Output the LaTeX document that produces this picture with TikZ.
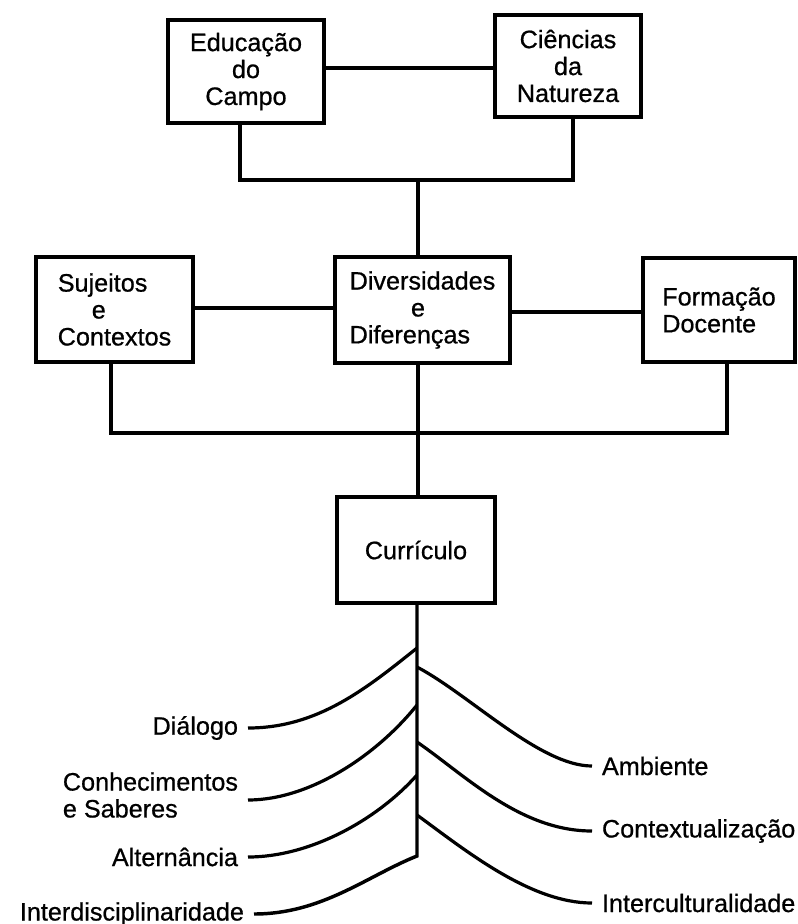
\documentclass[tikz,border=0pt]{standalone}
\usepackage{fontspec}
\setmainfont[FakeBold=0.7]{Liberation Sans}
\newcommand\dfont{\fontsize{18.9}{20.2}\selectfont}
\begin{document}
\begin{tikzpicture}[x=0.75pt,y=-0.75pt,
  line width=2.6pt,
  box/.style={draw, line width=2.8pt, inner sep=0pt, font=\dfont, align=center},
  lbl/.style={font=\dfont, inner sep=0pt, outer xsep=7.5pt},
  br/.style={line width=2.4pt}]
\useasboundingbox (0,0) rectangle (798,924);

% boxes
\node[box, minimum width=117pt, minimum height=77.25pt] (edu) at (246,71.5) {Educação\\do\\Campo};
\node[box, minimum width=109.5pt, minimum height=76.5pt] (cn) at (568,66) {Ciências\\da\\Natureza};
\node[box, align=left, minimum width=117.75pt, minimum height=78.75pt] (suj) at (114.5,309.5) {Sujeitos\\\hspace*{25.5pt}e\\Contextos};
\node[box, align=left, minimum width=131.25pt, minimum height=79.5pt] (div) at (422.5,310) {Diversidades\\\hspace*{46pt}e\\Diferenças};
\node[box, align=left, minimum width=114pt, minimum height=78pt] (form) at (719,310) {Formação\\Docente};
\node[box, minimum width=118.5pt, minimum height=79.5pt] (cur) at (416,550) {Currículo};

% top connectors
\coordinate (t1) at (240,180);
\coordinate (t2) at (418,180);
\coordinate (t3) at (573,180);
\draw (edu.east |- 0,68) -- (cn.west |- 0,68);
\draw (edu.south -| t1) -- (t1) -- (t3) -- (cn.south -| t3);
\draw (t2) -- (div.north -| t2);

% middle connectors
\draw (suj.east |- 0,308) -- (div.west |- 0,308);
\draw (div.east |- 0,312) -- (form.west |- 0,312);
\coordinate (b1) at (111,433);
\coordinate (b3) at (727,433);
\draw (suj.south -| b1) -- (b1) -- (b3) -- (form.south -| b3);
\draw (div.south -| t2) -- (cur.north -| t2);

% labels
\node[lbl, anchor=east] (dia) at (248,728) {Diálogo};
\node[lbl, anchor=east, align=left] (cs) at (248,795) {Conhecimentos\\e Saberes};
\node[lbl, anchor=east] (alt) at (248,857) {Alternância};
\node[lbl, anchor=east] (intd) at (254,914) {Interdisciplinaridade};
\node[lbl, anchor=west] (amb) at (592,766) {Ambiente};
\node[lbl, anchor=west] (ctx) at (592,831) {Contextualização};
\node[lbl, anchor=west] (intc) at (592,903) {Interculturalidade};

% trunk and branches
\coordinate (tb) at (417,856);
\coordinate (l1) at (417,648);
\coordinate (l2) at (417,705);
\coordinate (l3) at (417,775);
\coordinate (r1) at (417,667);
\coordinate (r2) at (417,742);
\coordinate (r3) at (417,815);
\coordinate (cse) at (248,800);

\draw[line join=miter] (cur.south -| tb) -- (tb) .. controls (367,876) and (322,914) .. (intd.east);
\draw[br] (l1) .. controls (367,688) and (318,728) .. (dia.east);
\draw[br] (l2) .. controls (377,755) and (310,800) .. (cse);
\draw[br] (l3) .. controls (377,820) and (310,857) .. (alt.east);
\draw[br] (r1) .. controls (470,695) and (540,766) .. (amb.west);
\draw[br] (r2) .. controls (465,775) and (520,831) .. (ctx.west);
\draw[br] (r3) .. controls (465,850) and (530,903) .. (intc.west);
\end{tikzpicture}
\end{document}
